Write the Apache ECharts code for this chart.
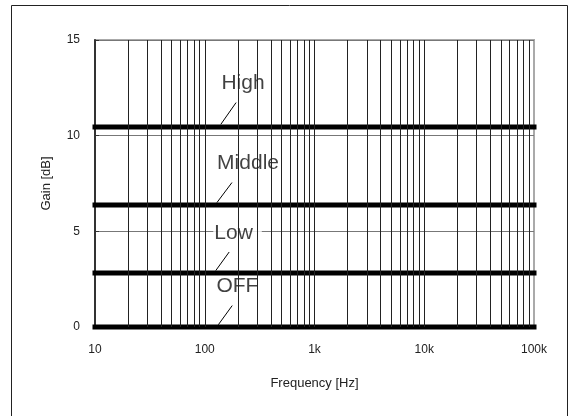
<!DOCTYPE html>
<html>
<head>
<meta charset="utf-8">
<script src="https://cdn.jsdelivr.net/npm/echarts@6/dist/echarts.min.js"></script>
<style>html,body{margin:0;padding:0;background:#fff}#c{width:572px;height:416px}</style>
</head>
<body>
<div id="c"></div>
<script>
// ---- data ----
const seriesNames = ['High', 'Middle', 'Low', 'OFF'];
const gainValues = [10.45, 6.38, 2.82, 0];
const freqRange = [10, 100000];
const xTickValues = [10, 100, 1000, 10000, 100000];
const xTickLabels = ['10', '100', '1k', '10k', '100k'];
const yTicks = [0, 5, 10, 15];
// label anchors (freq, gain) for the in-chart labels
const labelFreqs = [221, 248, 199, 207];
const labelGains = [12.86, 8.66, 5.0, 2.24];
// leader lines: start (near label) and end (on curve)
const leaderStartFreqs = [193, 177, 167, 178];
const leaderStartGains = [11.73, 7.55, 3.92, 1.12];
const leaderEndFreqs = [140, 129, 126, 133];
const leaderEndGains = [10.59, 6.50, 2.95, 0.12];
// vertical grid multipliers per decade
const decades = [10, 100, 1000, 10000];
const multipliers = [1, 2, 3, 4, 5, 6, 7, 8, 9];

const gridFreqs = [];
decades.forEach(d => multipliers.forEach(m => { const v = d * m; if (v > freqRange[0]) gridFreqs.push(v); }));

// label box styles (padding around text)
const labelPadding = {
  High: [0, 3, 29, 4],
  Middle: [0, 3, 29, 3],
  Low: [0, 9, 29, 1],
  OFF: [0, 6, 27, 2]
};

const FONT = "'Liberation Sans', Arial, sans-serif";
const chart = echarts.init(document.getElementById('c'), null, {renderer: 'canvas'});

const series = [];
series.push({
  type: 'line', data: [], z: 1, silent: true,
  markLine: {
    silent: true, symbol: ['none', 'none'], animation: false,
    label: {show: false},
    lineStyle: {color: '#222', width: 1, type: 'solid'},
    emphasis: {disabled: true},
    data: gridFreqs.map(f => ({xAxis: f}))
  }
});
series.push({
  type: 'scatter', z: 2, silent: true, animation: false,
  symbolSize: 1, itemStyle: {color: 'rgba(0,0,0,0)'},
  label: {
    show: true, position: 'inside', offset: [0, 2], formatter: p => p.name,
    fontFamily: FONT, fontSize: 21, lineHeight: 10, color: '#111',
    backgroundColor: '#fff'
  },
  data: seriesNames.map((n, i) => ({
    name: n, value: [labelFreqs[i], labelGains[i]],
    label: {padding: labelPadding[n]}
  }))
});
seriesNames.forEach((n, i) => {
  series.push({
    name: n, type: 'line', z: 3, symbol: 'none', clip: false, animation: false,
    lineStyle: {color: '#000', width: 5, cap: 'square'},
    data: freqRange.map(f => [f, gainValues[i]])
  });
});
series.push({
  type: 'line', data: [], z: 4, silent: true,
  markLine: {
    silent: true, symbol: ['none', 'none'], animation: false,
    label: {show: false},
    lineStyle: {color: '#000', width: 1, type: 'solid'},
    emphasis: {disabled: true},
    data: seriesNames.map((n, i) => [
      {coord: [leaderStartFreqs[i], leaderStartGains[i]]},
      {coord: [leaderEndFreqs[i], leaderEndGains[i]]}
    ])
  }
});

chart.setOption({
  backgroundColor: '#fff',
  animation: false,
  grid: {left: 95, right: 38, top: 40, bottom: 89, show: true, borderColor: '#aaa', borderWidth: 2, backgroundColor: 'transparent'},
  xAxis: {
    type: 'log', logBase: 10, min: freqRange[0], max: freqRange[1],
    name: 'Frequency [Hz]', nameLocation: 'middle', nameGap: 50,
    nameTextStyle: {fontFamily: FONT, fontSize: 13, color: '#222'},
    axisLine: {show: false}, axisTick: {show: false}, splitLine: {show: false},
    axisLabel: {
      fontFamily: FONT, fontSize: 12, color: '#222', margin: 17,
      formatter: v => { const k = xTickValues.findIndex(t => Math.abs(t - v) / t < 1e-6); return k >= 0 ? xTickLabels[k] : ''; }
    }
  },
  yAxis: {
    type: 'value', min: yTicks[0], max: yTicks[yTicks.length - 1], interval: 5,
    name: 'Gain [dB]', nameLocation: 'middle', nameGap: 42, nameRotate: 90,
    nameTextStyle: {fontFamily: FONT, fontSize: 13, color: '#222'},
    axisLine: {show: true, lineStyle: {color: '#333', width: 2}},
    axisTick: {show: true, inside: true, length: 4, lineStyle: {color: '#333'}},
    splitLine: {show: true, lineStyle: {color: '#777', width: 1}},
    axisLabel: {fontFamily: FONT, fontSize: 12, color: '#222', margin: 15}
  },
  graphic: [{
    type: 'rect', silent: true, z: 100,
    shape: {x: 11.5, y: 5.5, width: 556, height: 430},
    style: {fill: 'none', stroke: '#222', lineWidth: 1}
  }],
  series: series
});
</script>
</body>
</html>
